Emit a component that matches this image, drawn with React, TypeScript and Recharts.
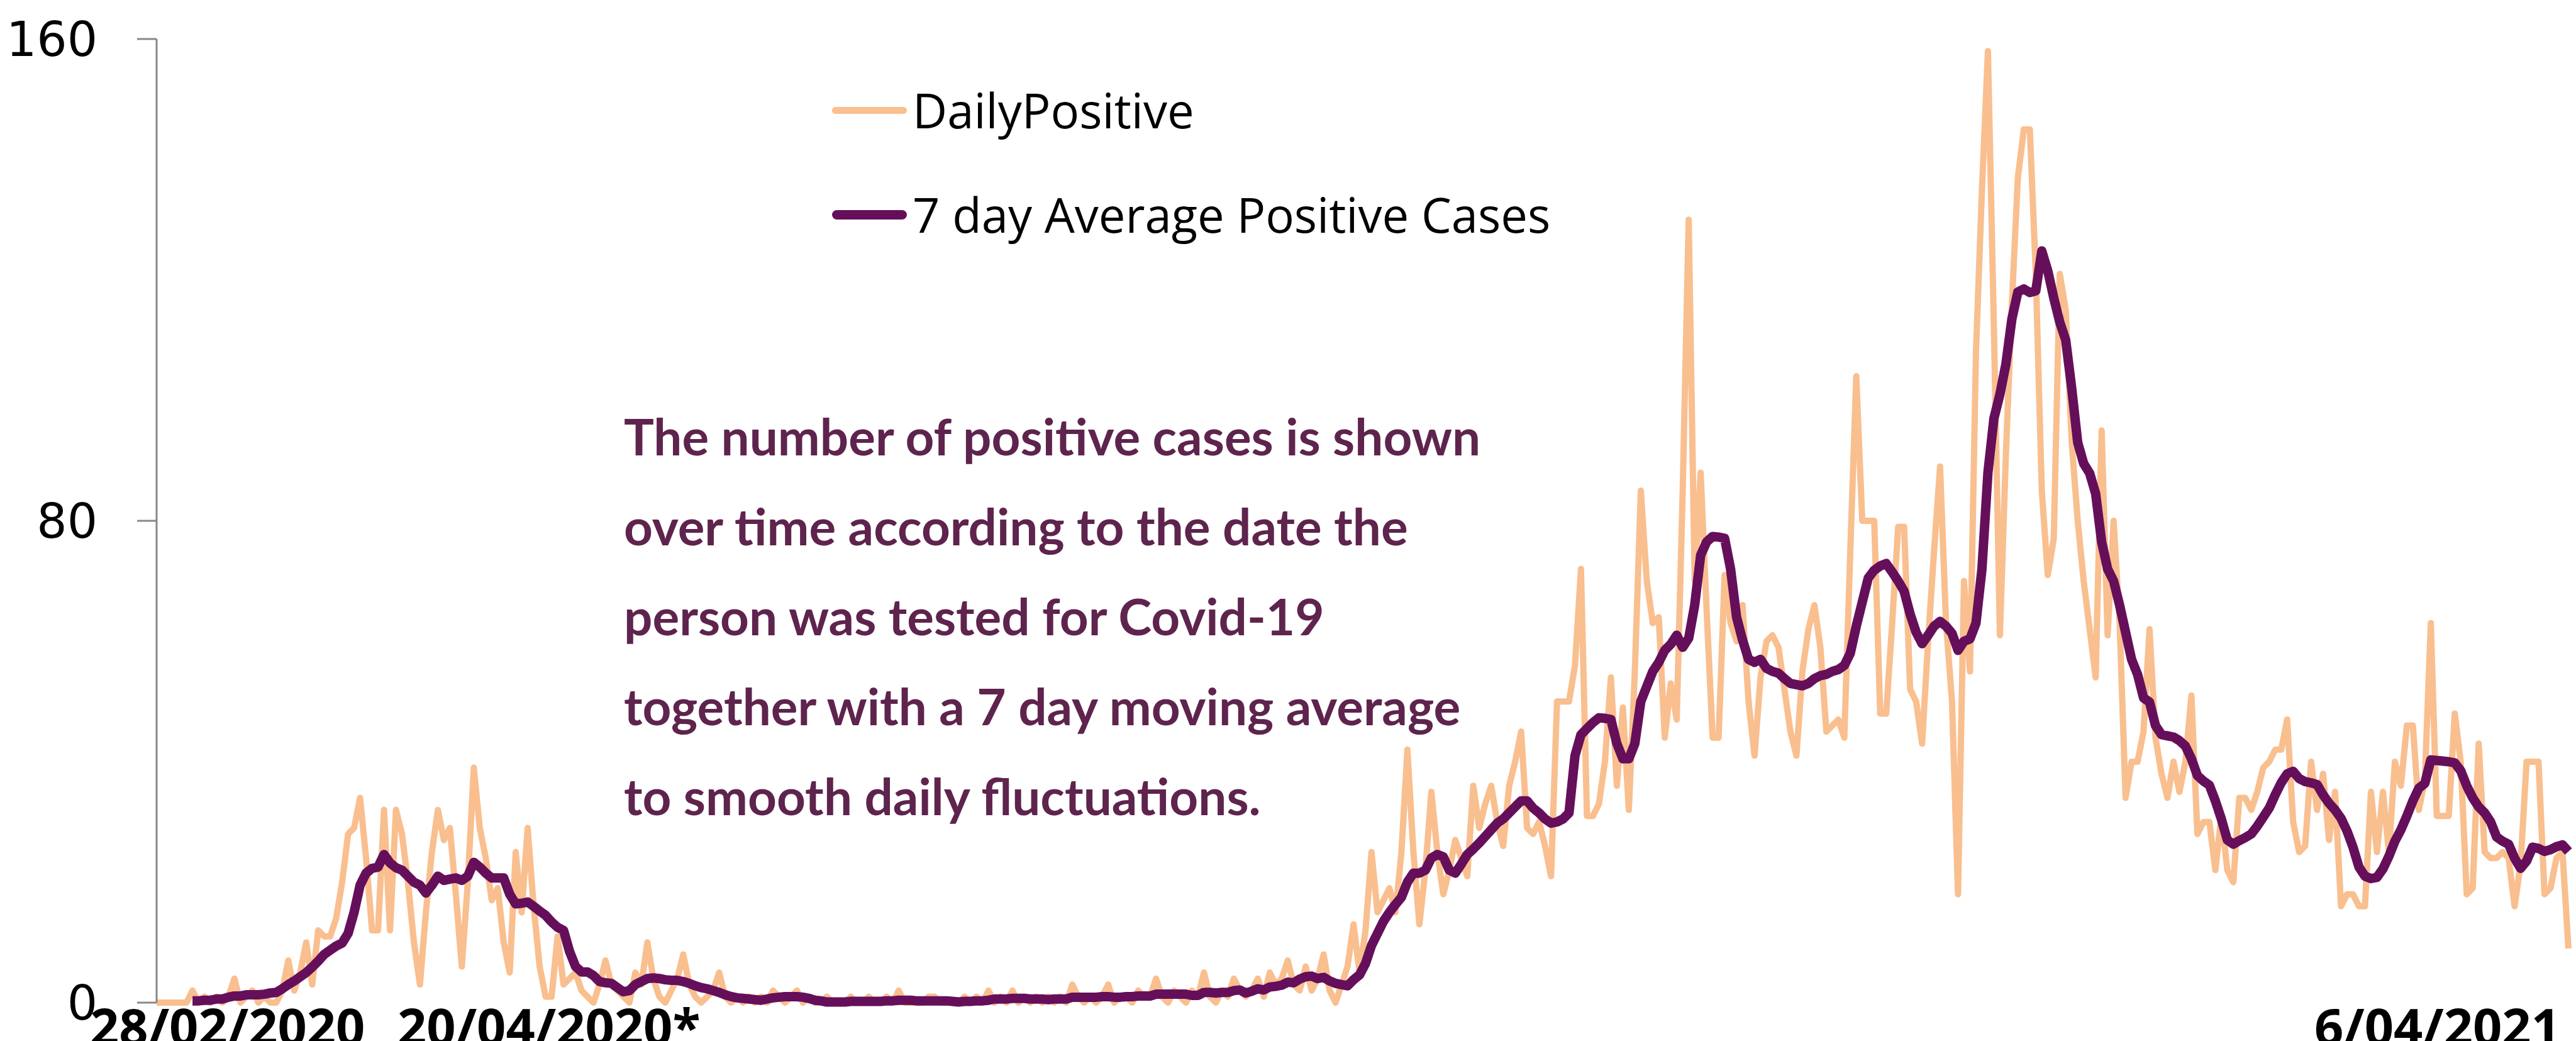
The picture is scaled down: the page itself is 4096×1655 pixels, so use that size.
import { LineChart, Line, XAxis, YAxis, Legend } from "recharts"

// daily positive cases, one value per day from 28/02/2020 to 6/04/2021
const daily = [
  0, 0, 0, 0, 0, 0, 2, 0, 1, 0,
  1, 0, 1, 4, 0, 1, 2, 0, 1, 0,
  0, 2, 7, 2, 5, 10, 3, 12, 11, 11,
  14, 20, 28, 29, 34, 24, 12, 12, 32, 12,
  32, 28, 20, 10, 3, 15, 25, 32, 27, 29,
  18, 6, 20, 39, 29, 24, 17, 19, 10, 5,
  25, 15, 29, 16, 6, 1, 1, 11, 3, 4,
  5, 2, 1, 0, 3, 7, 3, 2, 1, 0,
  5, 3, 10, 4, 1, 0, 2, 4, 8, 3,
  1, 0, 1, 2, 5, 1, 0, 1, 0, 1,
  0, 1, 0, 2, 1, 0, 1, 2, 0, 1,
  0, 0, 1, 0, 0, 0, 1, 0, 0, 1,
  0, 0, 1, 0, 2, 0, 0, 0, 0, 1,
  1, 0, 0, 0, 0, 1, 0, 1, 0, 2,
  0, 1, 0, 2, 0, 1, 0, 1, 0, 1,
  0, 1, 0, 3, 1, 0, 1, 0, 1, 3,
  0, 1, 1, 0, 2, 1, 1, 4, 1, 0,
  2, 1, 0, 2, 1, 5, 1, 0, 2, 1,
  4, 2, 1, 2, 4, 1, 5, 3, 4, 7,
  3, 2, 6, 2, 4, 8, 2, 0, 3, 6,
  13, 5, 12, 25, 15, 17, 19, 15, 25, 42,
  25, 13, 22, 35, 25, 18, 22, 27, 24, 21,
  36, 29, 33, 36, 30, 26, 36, 40, 45, 29,
  28, 30, 26, 21, 50, 50, 50, 56, 72, 31,
  31, 33, 40, 54, 36, 49, 32, 55, 85, 70,
  63, 64, 44, 53, 47, 85, 130, 70, 88, 65,
  44, 44, 71, 63, 60, 66, 50, 41, 54, 60,
  61, 59, 52, 45, 41, 55, 62, 66, 59, 45,
  46, 47, 44, 75, 104, 80, 80, 80, 48, 48,
  63, 79, 79, 52, 50, 43, 60, 75, 89, 63,
  50, 18, 70, 55, 108, 135, 158, 112, 61, 91,
  116, 137, 145, 145, 121, 85, 71, 77, 121, 115,
  93, 80, 70, 62, 54, 95, 61, 80, 63, 34,
  40, 40, 45, 62, 44, 38, 34, 40, 35, 40,
  51, 28, 30, 30, 22, 31, 22, 20, 34, 34,
  32, 35, 39, 40, 42, 42, 47, 30, 25, 26,
  40, 32, 38, 27, 35, 16, 18, 18, 16, 16,
  35, 25, 35, 25, 40, 36, 46, 46, 32, 37,
  63, 31, 31, 31, 48, 40, 18, 19, 43, 25,
  24, 24, 25, 24, 16, 23, 40, 40, 40, 18,
  19, 24, 25, 9,
]

// 7 day average (starts on the 7th day)
const avg7 = [
  null, null, null, null, null, null, 0.3, 0.3, 0.4, 0.4,
  0.6, 0.6, 0.9, 1.1, 1.1, 1.3, 1.3, 1.3, 1.4, 1.6,
  1.7, 2.3, 3.0, 3.6, 4.3, 5.0, 5.9, 6.9, 8.0, 8.7,
  9.4, 9.9, 11.5, 15.0, 19.5, 21.5, 22.3, 22.5, 24.6, 23.2,
  22.4, 22.0, 21.0, 20.0, 19.5, 18.2, 19.5, 21.0, 20.3, 20.5,
  20.7, 20.3, 21.0, 23.3, 22.5, 21.5, 20.7, 20.7, 20.7, 18.0,
  16.4, 16.5, 16.7, 16.0, 15.2, 14.5, 13.4, 12.5, 12.0, 8.5,
  6.0, 5.1, 5.1, 4.5, 3.5, 3.3, 3.2, 2.5, 1.8, 2.0,
  3.0, 3.5, 4.0, 4.1, 4.0, 3.8, 3.7, 3.7, 3.5, 3.2,
  2.8, 2.5, 2.3, 2.0, 1.7, 1.3, 1.0, 0.8, 0.7, 0.6,
  0.5, 0.4, 0.6, 0.8, 0.9, 1.0, 1.0, 1.0, 0.9, 0.7,
  0.4, 0.3, 0.1, 0.1, 0.1, 0.1, 0.2, 0.2, 0.2, 0.2,
  0.2, 0.2, 0.3, 0.3, 0.4, 0.4, 0.4, 0.3, 0.3, 0.3,
  0.3, 0.3, 0.3, 0.2, 0.1, 0.2, 0.2, 0.3, 0.3, 0.4,
  0.6, 0.6, 0.6, 0.7, 0.7, 0.7, 0.6, 0.6, 0.6, 0.5,
  0.6, 0.6, 0.6, 0.9, 0.9, 0.9, 0.9, 0.9, 1.0, 1.0,
  0.9, 0.9, 1.0, 1.0, 1.1, 1.1, 1.1, 1.4, 1.4, 1.4,
  1.4, 1.4, 1.4, 1.2, 1.2, 1.7, 1.7, 1.6, 1.7, 1.7,
  2.0, 2.1, 1.6, 1.9, 2.3, 2.1, 2.6, 2.7, 2.9, 3.4,
  3.3, 3.9, 4.3, 4.4, 4.0, 4.2, 3.6, 3.2, 3.0, 2.8,
  3.8, 4.6, 6.5, 9.5, 11.5, 13.5, 15.0, 16.3, 17.5, 20.0,
  21.5, 21.5, 22.0, 24.0, 24.6, 24.2, 22.0, 21.5, 23.0, 24.6,
  25.5, 26.5, 27.6, 28.7, 29.8, 30.5, 31.5, 32.5, 33.5, 33.5,
  32.3, 31.5, 30.5, 29.8, 30.0, 30.5, 31.5, 41.0, 44.5, 45.5,
  46.5, 47.3, 47.2, 47.0, 43.0, 40.5, 40.5, 43.0, 50.0, 52.5,
  55.0, 56.5, 58.5, 59.5, 61.0, 59.0, 60.5, 66.0, 74.3, 76.5,
  77.4, 77.3, 77.1, 72.0, 64.0, 60.2, 57.0, 56.5, 57.0, 55.5,
  55.0, 54.7, 53.8, 53.0, 52.8, 52.6, 53.0, 53.8, 54.3, 54.5,
  55.0, 55.3, 56.0, 58.0, 62.5, 66.5, 70.5, 71.8, 72.5, 72.9,
  71.5, 70.0, 68.3, 64.5, 61.5, 59.6, 61.0, 62.5, 63.3, 62.5,
  61.3, 58.5, 60.0, 60.4, 63.0, 72.0, 88.0, 97.0, 101.0, 106.0,
  113.5, 118.0, 118.5, 117.9, 118.2, 124.8, 121.5, 117.0, 113.0, 110.0,
  102.0, 93.0, 89.5, 87.9, 84.5, 76.5, 72.0, 70.0, 66.0, 61.5,
  57.0, 54.5, 50.6, 49.9, 46.0, 44.5, 44.3, 44.1, 43.5, 42.6,
  40.5, 37.7, 36.8, 36.1, 33.5, 30.5, 27.0, 26.3, 26.9, 27.4,
  28.0, 29.3, 30.8, 32.3, 34.5, 36.5, 38.0, 38.4, 37.2, 36.7,
  36.5, 36.2, 34.5, 33.1, 32.0, 30.6, 28.5, 25.8, 22.5, 21.0,
  20.6, 20.8, 22.2, 24.3, 26.8, 28.7, 31.0, 33.5, 35.6, 36.4,
  40.3, 40.2, 40.1, 40.0, 39.8, 38.5, 36.0, 34.0, 32.5, 31.5,
  30.0, 27.5, 26.8, 26.3, 24.0, 22.3, 23.5, 25.8, 25.6, 25.1,
  25.4, 25.9, 26.2, 25.1,
]

const yTicks = [0, 80, 160]
const xLabels = ["28/02/2020", "20/04/2020*", "6/04/2021"]
const legendOrder = ["daily", "avg"]
const note = [
  "The number of positive cases is shown",
  "over time according to the date the",
  "person was tested for Covid-19",
  "together with a 7 day moving average",
  "to smooth daily fluctuations.",
]

const START = Date.UTC(2020, 1, 28)
const dates = daily.map((_, i) => {
  const d = new Date(START + i * 86400000)
  return `${d.getUTCDate()}/${String(d.getUTCMonth() + 1).padStart(2, "0")}/${d.getUTCFullYear()}`
})

const rows = daily.map((v, i) => ({ day: i, date: dates[i], daily: v, avg: avg7[i] }))

const ORANGE = "#F9BF8F"
const PURPLE = "#650F5B"
const NOTE = "#5E244D"

function LegendBox(props: any) {
  const items = [...(props.payload || [])].sort(
    (a: any, b: any) => legendOrder.indexOf(a.dataKey) - legendOrder.indexOf(b.dataKey)
  )
  return (
    <div style={{ fontFamily: "'Open Sans', sans-serif", fontSize: 76, color: "#000" }}>
      {items.map((p: any, i: number) => (
        <div key={i} style={{ display: "flex", alignItems: "center", height: 166 }}>
          <div
            style={{
              width: 119,
              height: p.dataKey === "daily" ? 11 : 15,
              borderRadius: 8,
              background: p.color,
              marginRight: 9,
            }}
          />
          <span style={{ lineHeight: 1, whiteSpace: "nowrap" }}>{p.value}</span>
        </div>
      ))}
    </div>
  )
}

export default function App() {
  return (
    <div style={{ position: "absolute", left: 0, top: 0, width: 4096, height: 1655, background: "#fff", overflow: "hidden" }}>
      <LineChart width={4096} height={1655} data={rows} margin={{ top: 62, right: 12, bottom: 61, left: 0 }}>
        <XAxis dataKey="day" type="number" domain={[0, 403]} hide />
        <YAxis
          domain={[0, 160]}
          ticks={yTicks}
          interval={0}
          width={249}
          axisLine={{ stroke: "#888", strokeWidth: 3 }}
          tickLine={{ stroke: "#888", strokeWidth: 3 }}
          tickSize={31}
          tickMargin={63}
          tick={{ fill: "#000", fontSize: 76, fontFamily: "'DejaVu Sans', sans-serif" }}
        />
        <Legend
          layout="vertical"
          align="center"
          verticalAlign="middle"
          content={<LegendBox />}
          wrapperStyle={{ left: 1323, top: 92, width: 1300 }}
        />
        <Line
          type="linear"
          dataKey="daily"
          name="DailyPositive"
          stroke={ORANGE}
          strokeWidth={10}
          strokeLinejoin="round"
          dot={false}
          activeDot={false}
          isAnimationActive={false}
        />
        <Line
          type="linear"
          dataKey="avg"
          name="7 day Average Positive Cases"
          stroke={PURPLE}
          strokeWidth={15}
          strokeLinejoin="round"
          dot={false}
          activeDot={false}
          isAnimationActive={false}
        />
      </LineChart>
      <svg width={4096} height={1655} style={{ position: "absolute", left: 0, top: 0, pointerEvents: "none" }}>
        {note.map((t, i) => (
          <text
            key={i}
            x={992}
            y={724 + i * 143}
            fill={NOTE}
            fontFamily="Lato, sans-serif"
            fontWeight={700}
            fontSize={80}
          >
            {t}
          </text>
        ))}
        <text x={143} y={1662} fontFamily="'Open Sans', sans-serif" fontWeight={700} fontSize={81} fill="#000">
          {xLabels[0]}
        </text>
        <text x={632} y={1662} fontFamily="'Open Sans', sans-serif" fontWeight={700} fontSize={81} fill="#000">
          {xLabels[1]}
        </text>
        <text x={4071} y={1662} textAnchor="end" fontFamily="'Open Sans', sans-serif" fontWeight={700} fontSize={81} fill="#000">
          {xLabels[2]}
        </text>
      </svg>
    </div>
  )
}
